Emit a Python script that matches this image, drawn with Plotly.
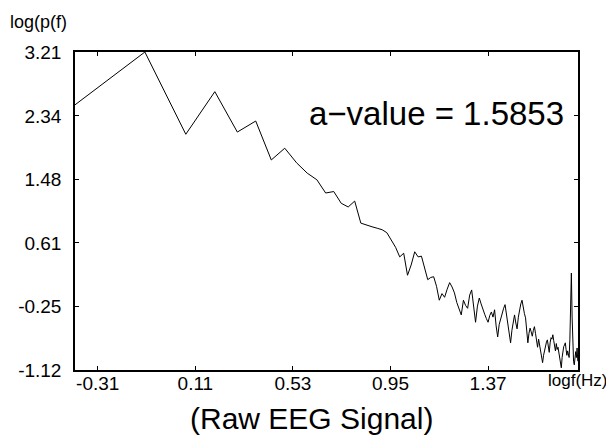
import numpy as np
import plotly.graph_objects as go

# frequency resolution (Hz) and bin indices
freq_res = 0.390625
bins = list(range(1, 147))

# log power values, one per frequency bin
log_power = [
    2.49, 3.21, 2.09, 2.67, 2.12, 2.27, 1.74, 1.90, 1.70, 1.56,
    1.47, 1.29, 1.31, 1.15, 1.10, 1.18, 0.88, 0.85, 0.83, 0.81,
    0.79, 0.75, 0.65, 0.55, 0.42, 0.47, 0.17, 0.31, 0.49, 0.42,
    0.43, 0.28, 0.11, 0.14, 0.15, 0.02, -0.17, -0.08, -0.13, -0.02,
    0.07, 0.01, -0.07, -0.20, -0.30, -0.37, -0.17, -0.24, -0.28, -0.10,
    -0.03, -0.30, -0.47, -0.25, -0.14, -0.22, -0.30, -0.36, -0.42, -0.47,
    -0.38, -0.33, -0.40, -0.30, -0.52, -0.67, -0.50, -0.42, -0.35, -0.28,
    -0.23, -0.36, -0.44, -0.60, -0.75, -0.58, -0.45, -0.37, -0.48, -0.56,
    -0.40, -0.30, -0.22, -0.17, -0.28, -0.35, -0.41, -0.60, -0.75, -0.62,
    -0.55, -0.60, -0.66, -0.58, -0.53, -0.62, -0.72, -0.81, -0.70, -0.78,
    -0.88, -0.95, -1.02, -0.92, -0.85, -0.78, -0.74, -0.71, -0.80, -0.88,
    -0.75, -0.68, -0.70, -0.64, -0.72, -0.80, -0.86, -0.76, -0.84, -0.81,
    -0.90, -0.98, -1.04, -1.09, -0.95, -0.85, -0.80, -0.78, -0.75, -0.84,
    -0.92, -0.86, -0.89, -0.95, -0.70, -0.35, 0.20, -0.40, -0.85, -1.00,
    -1.05, -0.92, -0.87, -0.95, -0.82, -1.00,
]

x_ticks = [-0.31, 0.11, 0.53, 0.95, 1.37]
x_tick_labels = ["-0.31", "0.11", "0.53", "0.95", "1.37"]
y_ticks = [-1.12, -0.25, 0.61, 1.48, 2.34, 3.21]
y_tick_labels = ["-1.12", "-0.25", "0.61", "1.48", "2.34", "3.21"]

log_freq = [float(np.log10(k * freq_res)) for k in bins]

FONT = "Liberation Sans, Arial, sans-serif"

fig = go.Figure()
fig.add_trace(go.Scatter(
    x=log_freq, y=log_power, mode="lines",
    line=dict(color="black", width=1),
    showlegend=False, hoverinfo="skip",
))

axis_common = dict(
    showline=True, linecolor="black", linewidth=1.5, mirror="ticks",
    ticks="inside", ticklen=4, tickwidth=1, tickcolor="black",
    showgrid=False, zeroline=False, automargin=False,
    tickfont=dict(family=FONT, size=19, color="black"),
)

fig.update_xaxes(range=[-0.408, 1.757], tickvals=x_ticks, ticktext=x_tick_labels,
                 ticklabelstandoff=-5, **axis_common)
fig.update_yaxes(range=[-1.12, 3.21], tickvals=y_ticks, ticktext=y_tick_labels,
                 ticklabelstandoff=8, **axis_common)

fig.add_annotation(text="log(p(f)", xref="paper", yref="paper", x=-0.134, y=1.058,
                   xanchor="left", yanchor="bottom", showarrow=False,
                   font=dict(family=FONT, size=18, color="black"))
fig.add_annotation(text="logf(Hz)", xref="paper", yref="paper", x=1.0, y=0.002,
                   xanchor="center", yanchor="top", showarrow=False,
                   font=dict(family=FONT, size=17, color="black"))
fig.add_annotation(text="a\u2212value = 1.5853", xref="paper", yref="y", x=0.976, y=2.37,
                   xanchor="right", yanchor="middle", showarrow=False,
                   font=dict(family=FONT, size=33, color="black"))
fig.add_annotation(text="(Raw EEG Signal)", xref="paper", yref="paper", x=0.47, y=-0.151,
                   xanchor="center", yanchor="middle", showarrow=False,
                   font=dict(family=FONT, size=30, color="black"))

# page body has an 8px margin, so the figure is shrunk to keep the plot area in place
fig.update_layout(
    width=606, height=432,
    margin=dict(l=67, r=36, t=44, b=70),
    paper_bgcolor="white", plot_bgcolor="white",
)

fig.write_html("out.html")
